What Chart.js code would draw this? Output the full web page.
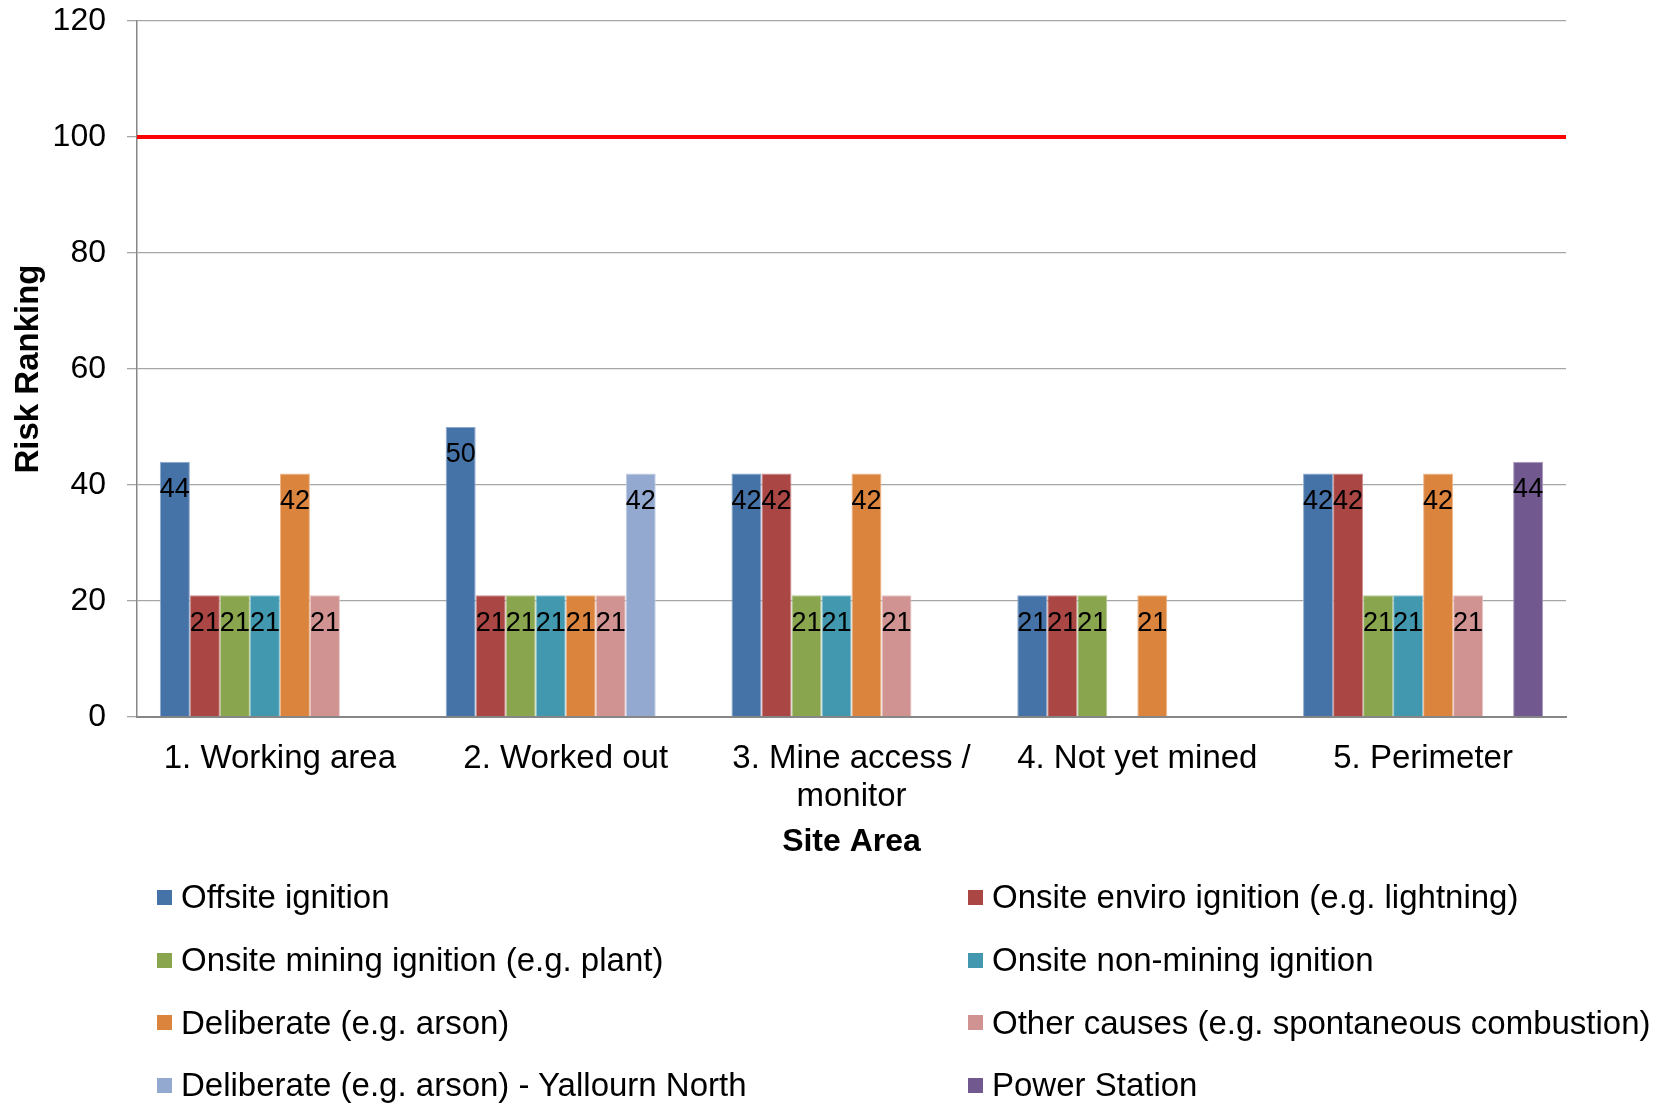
<!DOCTYPE html>
<html>
<head>
<meta charset="utf-8">
<script src="https://cdn.jsdelivr.net/npm/chart.js@4/dist/chart.umd.min.js"></script>
<style>
  html, body { margin: 0; padding: 0; background: #fff; }
  #wrap { position: relative; width: 1661px; height: 1106px; }
  #chart { position: absolute; left: 0; top: 0; }
  #legend {
    position: absolute; left: 157px; top: 866px;
    display: grid; grid-template-columns: 811px 690px; grid-auto-rows: 62.7px;
    font-family: "Liberation Sans", Arial, sans-serif; font-size: 33px; color: #000;
  }
  .item { display: flex; align-items: center; white-space: nowrap; }
  .box { width: 15px; height: 15px; margin-right: 9px; flex: none; }
</style>
</head>
<body>
<div id="wrap">
  <canvas id="chart" width="1661" height="1106"></canvas>
  <div id="legend"></div>
</div>
<script>
// Site areas along the category axis
const categories = ['1. Working area', '2. Worked out', ['3. Mine access /', 'monitor'], '4. Not yet mined', '5. Perimeter'];

// Risk ranking per ignition source (null = not assessed for that area)
const offsiteIgnition     = [44, 50, 42, 21, 42];
const onsiteEnviro        = [21, 21, 42, 21, 42];
const onsiteMining        = [21, 21, 21, 21, 21];
const onsiteNonMining     = [21, 21, 21, null, 21];
const deliberate          = [42, 21, 42, 21, 42];
const otherCauses         = [21, 21, 21, null, 21];
const deliberateYallourn  = [null, 42, null, null, null];
const powerStation        = [null, null, null, null, 44];

// Risk threshold drawn across the whole plot
const threshold = 100;

// Value axis ticks
const yTicks = { min: 0, max: 120, step: 20 };

const seriesNames = [
  'Offsite ignition',
  'Onsite enviro ignition (e.g. lightning)',
  'Onsite mining ignition (e.g. plant)',
  'Onsite non-mining ignition',
  'Deliberate (e.g. arson)',
  'Other causes (e.g. spontaneous combustion)',
  'Deliberate (e.g. arson) - Yallourn North',
  'Power Station'
];
const seriesData = [offsiteIgnition, onsiteEnviro, onsiteMining, onsiteNonMining, deliberate, otherCauses, deliberateYallourn, powerStation];
const seriesColors = ['#4572A7', '#AA4643', '#89A54E', '#4198AF', '#DB843D', '#D19392', '#93A9CF', '#71588F'];
const seriesEdges  = ['#8FA9CC', '#CC8F8D', '#B5C993', '#8CC2D1', '#EDB78C', '#E6C3C2', '#C2CFE6', '#A796BD'];

const FONT = '"Liberation Sans", Arial, sans-serif';

const barSets = seriesNames.map((name, i) => ({
  type: 'bar',
  label: name,
  data: seriesData[i],
  backgroundColor: seriesColors[i],
  borderColor: seriesEdges[i],
  borderWidth: 1
}));

// Red threshold line from the left to the right edge of the plot
const thresholdLine = {
  id: 'thresholdLine',
  afterDatasetsDraw(chart) {
    const { ctx, chartArea, scales } = chart;
    const y = scales.y.getPixelForValue(threshold);
    ctx.save();
    ctx.strokeStyle = '#FF0000';
    ctx.lineWidth = 4;
    ctx.beginPath();
    ctx.moveTo(chartArea.left, y);
    ctx.lineTo(chartArea.right, y);
    ctx.stroke();
    ctx.restore();
  }
};

// Value labels inside the top end of each bar
const barValueLabels = {
  id: 'barValueLabels',
  afterDatasetsDraw(chart) {
    const ctx = chart.ctx;
    ctx.save();
    ctx.font = '27px ' + FONT;
    ctx.fillStyle = '#000';
    ctx.textAlign = 'center';
    ctx.textBaseline = 'middle';
    chart.data.datasets.forEach((ds, di) => {
      const meta = chart.getDatasetMeta(di);
      meta.data.forEach((el, i) => {
        const v = ds.data[i];
        if (v === null || v === undefined) return;
        ctx.fillText(String(v), el.x, el.y + 28);
      });
    });
    ctx.restore();
  }
};

const chart = new Chart(document.getElementById('chart'), {
  type: 'bar',
  data: { labels: categories, datasets: barSets },
  options: {
    responsive: false,
    animation: false,
    layout: { padding: { top: 21, right: 95, bottom: 239, left: 0 } },
    plugins: { legend: { display: false }, tooltip: { enabled: false } },
    datasets: { bar: { barPercentage: 1, categoryPercentage: 0.84 } },
    scales: {
      x: {
        type: 'category',
        offset: true,
        grid: { display: false, drawTicks: false },
        border: { display: true, color: '#868686', width: 2 },
        ticks: { color: '#000', font: { family: FONT, size: 33, lineHeight: 1.15 }, padding: 23, maxRotation: 0, autoSkip: false },
        title: { display: true, text: 'Site Area', color: '#000', font: { family: FONT, size: 32, weight: 'bold', lineHeight: 1.2 }, padding: { top: 0, bottom: 6 } },
        afterFit(scale) { scale.height = 150; }
      },
      y: {
        min: yTicks.min,
        max: yTicks.max,
        grid: { color: '#A6A6A6', lineWidth: 1.3, tickLength: 10 },
        border: { display: true, color: '#868686', width: 1.5 },
        ticks: { stepSize: yTicks.step, color: '#000', font: { family: FONT, size: 32 }, padding: 21 },
        title: { display: true, text: 'Risk Ranking', color: '#000', font: { family: FONT, size: 33, weight: 'bold', lineHeight: 1.2 }, padding: { top: 9, bottom: 0 } },
        afterFit(scale) {
          scale.width = 137;
          scale.paddingTop = 0;
          scale.paddingBottom = 0;
        }
      }
    }
  },
  plugins: [thresholdLine, barValueLabels]
});

// Two-column legend built from the bar datasets
const legendEl = document.getElementById('legend');
barSets.forEach(ds => {
  const item = document.createElement('div');
  item.className = 'item';
  const box = document.createElement('span');
  box.className = 'box';
  box.style.background = ds.backgroundColor;
  const txt = document.createElement('span');
  txt.textContent = ds.label;
  item.appendChild(box);
  item.appendChild(txt);
  legendEl.appendChild(item);
});
</script>
</body>
</html>
